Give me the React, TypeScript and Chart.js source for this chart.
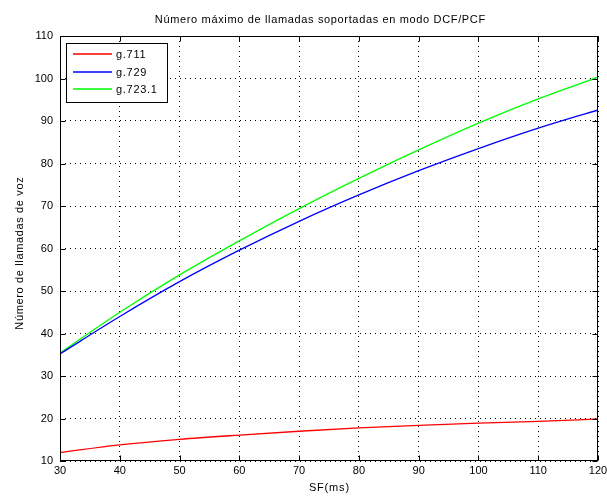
import React, { useEffect, useRef } from "react";
import { Chart, registerables } from "chart.js";
Chart.register(...registerables);

const sf = [30, 40, 50, 60, 70, 80, 90, 100, 110, 120];
const g711 = [12, 13.8, 15.1, 16.1, 17.0, 17.8, 18.4, 18.9, 19.3, 19.9];
const g729 = [35.2, 44.0, 52.2, 59.6, 66.4, 72.6, 78.3, 83.5, 88.3, 92.6];
const g7231 = [35.4, 45.0, 53.8, 61.8, 69.4, 76.5, 83.2, 89.5, 95.2, 100.3];
const seriesNames = ["g.711", "g.729", "g.723.1"];
const seriesColors = ["#ff0000", "#0000ff", "#00ff00"];
const xMin = 30, xMax = 120, xStep = 10;
const yMin = 10, yMax = 110, yStep = 10;
const titleText = "Número máximo de llamadas soportadas en modo DCF/PCF";
const xLabel = "SF(ms)";
const yLabel = "Número de llamadas de voz";

const FONT = "'Liberation Sans', Arial, Helvetica, sans-serif";

function spacedText(ctx: CanvasRenderingContext2D, text: string, x: number, y: number, target: number) {
  (ctx as any).letterSpacing = "0px";
  const w = ctx.measureText(text).width;
  const ls = Math.max(0, (target - w) / Math.max(1, text.length));
  (ctx as any).letterSpacing = ls + "px";
  ctx.fillText(text, x + ls / 2, y);
  (ctx as any).letterSpacing = "0px";
}

const decor = {
  id: "matlabDecor",
  afterDraw(chart: any) {
    const ctx: CanvasRenderingContext2D = chart.ctx;
    const a = chart.chartArea;
    const xs = chart.scales.x;
    const ys = chart.scales.y;
    ctx.save();
    // box
    ctx.strokeStyle = "#000";
    ctx.lineWidth = 1;
    const L = Math.round(a.left) + 0.5, R = Math.round(a.right) - 0.5;
    const T = Math.round(a.top) + 0.5, B = Math.round(a.bottom) - 0.5;
    ctx.strokeRect(L, T, R - L, B - T);
    // inward ticks
    ctx.beginPath();
    for (let v = xMin; v <= xMax; v += xStep) {
      const p = Math.round(xs.getPixelForValue(v)) + 0.5;
      ctx.moveTo(p, B); ctx.lineTo(p, B - 5);
      ctx.moveTo(p, T); ctx.lineTo(p, T + 5);
    }
    for (let v = yMin; v <= yMax; v += yStep) {
      const p = Math.round(ys.getPixelForValue(v)) + 0.5;
      ctx.moveTo(L, p); ctx.lineTo(L + 5, p);
      ctx.moveTo(R, p); ctx.lineTo(R - 5, p);
    }
    ctx.stroke();
    // titles
    ctx.fillStyle = "#000";
    ctx.textBaseline = "middle";
    ctx.textAlign = "center";
    ctx.font = "11px " + FONT;
    spacedText(ctx, titleText, 320, 20, 331);
    spacedText(ctx, xLabel, (a.left + a.right) / 2, 488, 41);
    ctx.save();
    ctx.translate(20, (a.top + a.bottom) / 2 + 5);
    ctx.rotate(-Math.PI / 2);
    spacedText(ctx, yLabel, 0, 0, 153);
    ctx.restore();
    // legend
    ctx.fillStyle = "#fff";
    ctx.fillRect(66.5, 43.5, 101, 59);
    ctx.strokeStyle = "#000";
    ctx.lineWidth = 1;
    ctx.strokeRect(66.5, 43.5, 101, 59);
    ctx.textAlign = "left";
    for (let i = 0; i < seriesNames.length; i++) {
      const y = Math.round(54 + i * 17.5);
      ctx.strokeStyle = seriesColors[i];
      ctx.lineWidth = 1.5;
      ctx.beginPath();
      ctx.moveTo(73, y); ctx.lineTo(112, y);
      ctx.stroke();
      ctx.fillStyle = "#000";
      (ctx as any).letterSpacing = "0.7px";
      ctx.fillText(seriesNames[i], 116, y + 1);
      (ctx as any).letterSpacing = "0px";
    }
    ctx.restore();
  },
};

export default function App() {
  const ref = useRef<HTMLCanvasElement | null>(null);
  useEffect(() => {
    if (!ref.current) return;
    const seriesData = [g711, g729, g7231];
    const chart = new Chart(ref.current, {
      type: "line",
      data: {
        datasets: seriesNames.map((n, i) => ({
          label: n,
          data: sf.map((x, j) => ({ x, y: seriesData[i][j] })),
          borderColor: seriesColors[i],
          backgroundColor: seriesColors[i],
          borderWidth: 1.3,
          pointRadius: 0,
          cubicInterpolationMode: "monotone" as const,
          fill: false,
        })),
      },
      options: {
        responsive: false,
        animation: false,
        devicePixelRatio: 1,
        layout: { padding: { top: 36, right: 9, left: 0, bottom: 0 } },
        plugins: { legend: { display: false }, title: { display: false }, tooltip: { enabled: false } },
        scales: {
          x: {
            type: "linear",
            min: xMin,
            max: xMax,
            ticks: { stepSize: xStep, padding: 3, color: "#000", font: { size: 11, family: FONT }, maxRotation: 0 },
            grid: { color: "#000", drawTicks: false, lineWidth: 1 },
            border: { display: false, dash: [1, 4] },
            afterFit: (s: any) => { s.height = 35; s.paddingLeft = 0; s.paddingRight = 0; },
          },
          y: {
            type: "linear",
            min: yMin,
            max: yMax,
            ticks: { stepSize: yStep, padding: 7, color: "#000", font: { size: 11, family: FONT } },
            grid: { color: "#000", drawTicks: false, lineWidth: 1 },
            border: { display: false, dash: [1, 4] },
            afterFit: (s: any) => { s.width = 60; s.paddingTop = 0; s.paddingBottom = 0; },
          },
        },
      },
      plugins: [decor],
    });
    return () => chart.destroy();
  }, []);
  return (
    <div style={{ position: "fixed", left: 0, top: 0, width: 607, height: 496, background: "#fff" }}>
      <canvas ref={ref} width={607} height={496} style={{ display: "block" }} />
    </div>
  );
}
